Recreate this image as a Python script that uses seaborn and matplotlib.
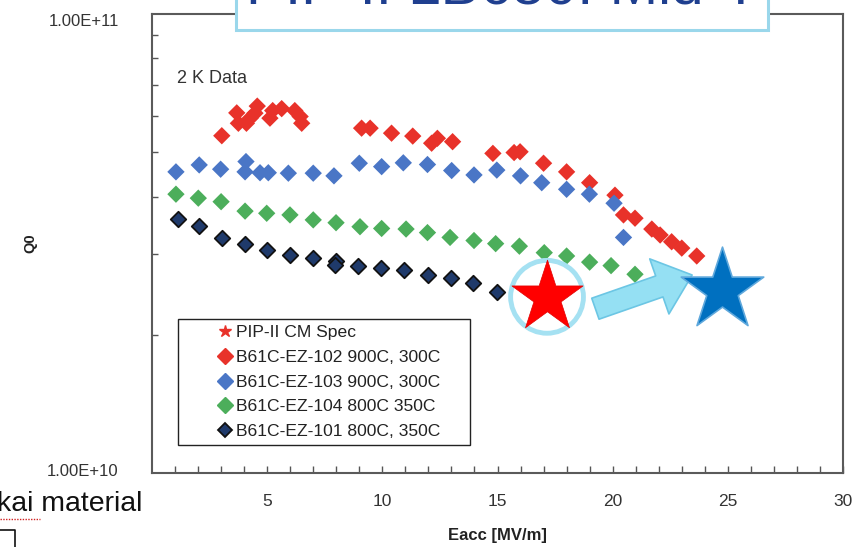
import numpy as np
import pandas as pd
import matplotlib
matplotlib.use("Agg")
import matplotlib.pyplot as plt
import matplotlib.transforms as mtransforms
import seaborn as sns
from matplotlib.lines import Line2D
from matplotlib.patches import FancyArrowPatch, Rectangle, ArrowStyle
from matplotlib.ticker import FixedLocator, NullFormatter

# ---------------- data ----------------
x_102 = [3.03, 3.68, 3.75, 4.10, 4.26, 4.47, 4.57, 5.12, 5.24, 5.63, 6.20, 6.43, 6.50,
         9.10, 9.47, 10.40, 11.32, 12.14, 12.39, 13.05, 14.80, 15.72, 15.98, 17.00,
         18.00, 19.00, 20.10, 20.47, 20.97, 21.70, 22.06, 22.56, 23.00, 23.65]
q_102 = [5.43, 6.09, 5.78, 5.78, 5.93, 6.08, 6.30, 5.93, 6.16, 6.22, 6.16, 5.98, 5.78,
         5.64, 5.64, 5.50, 5.42, 5.23, 5.36, 5.27, 4.97, 4.99, 5.01, 4.73,
         4.53, 4.29, 4.03, 3.65, 3.59, 3.40, 3.30, 3.19, 3.09, 2.97]

x_103 = [1.04, 2.05, 2.98, 4.04, 4.08, 4.69, 5.05, 5.92, 7.00, 7.90, 9.00, 9.97, 10.91,
         11.96, 13.01, 13.98, 14.97, 16.00, 16.92, 18.00, 18.99, 20.06, 20.47]
q_103 = [4.53, 4.69, 4.59, 4.53, 4.77, 4.51, 4.51, 4.50, 4.50, 4.44, 4.73, 4.65, 4.74,
         4.70, 4.56, 4.46, 4.57, 4.44, 4.29, 4.15, 4.05, 3.87, 3.26]

x_104 = [1.04, 2.01, 3.00, 4.04, 4.98, 5.99, 7.00, 7.99, 9.03, 9.97, 11.03, 11.96,
         12.94, 13.98, 14.92, 15.95, 17.03, 18.00, 19.00, 19.93, 20.97]
q_104 = [4.05, 3.97, 3.90, 3.72, 3.68, 3.65, 3.56, 3.51, 3.44, 3.41, 3.40, 3.34,
         3.26, 3.21, 3.16, 3.12, 3.02, 2.97, 2.88, 2.83, 2.71]

x_101 = [1.14, 2.05, 3.03, 4.04, 5.01, 5.99, 6.98, 7.99, 7.95, 8.96, 9.93, 10.94,
         11.99, 12.97, 13.95, 14.97]
q_101 = [3.57, 3.45, 3.25, 3.15, 3.06, 2.98, 2.94, 2.89, 2.84, 2.82, 2.79, 2.77,
         2.70, 2.66, 2.60, 2.48]

spec_x = [17.15]
spec_q = [2.42]
goal_x = [24.75]
goal_q = [2.50]

labels = ["PIP-II CM Spec",
          "B61C-EZ-102 900C, 300C",
          "B61C-EZ-103 900C, 300C",
          "B61C-EZ-104 800C 350C",
          "B61C-EZ-101 800C, 350C"]
x_ticks = [5, 10, 15, 20, 25, 30]
y_tick_labels = ["1.00E+10", "1.00E+11"]

# ---------------- style ----------------
sns.set_style("white")
plt.rcParams["font.family"] = ["Liberation Sans", "DejaVu Sans"]

W, H = 862, 547
fig = plt.figure(figsize=(W / 100, H / 100), dpi=100)
ax = fig.add_axes([152 / W, 1 - 473 / H, (843 - 152) / W, (473 - 14) / H])

c_red = "#E8322A"
c_blue = "#4A76C6"
c_green = "#4CAE5B"
c_navy = "#1F3A6B"

def frame(xs, qs):
    return pd.DataFrame({"Eacc": xs, "Q0": np.array(qs) * 1e10})

ms = 78
sns.scatterplot(data=frame(x_102, q_102), x="Eacc", y="Q0", marker="D", s=ms,
                color=c_red, edgecolor="none", ax=ax, zorder=3)
sns.scatterplot(data=frame(x_103, q_103), x="Eacc", y="Q0", marker="D", s=ms,
                color=c_blue, edgecolor="none", ax=ax, zorder=3)
sns.scatterplot(data=frame(x_104, q_104), x="Eacc", y="Q0", marker="D", s=ms,
                color=c_green, edgecolor="none", ax=ax, zorder=3)
sns.scatterplot(data=frame(x_101, q_101), x="Eacc", y="Q0", marker="D", s=62,
                color=c_navy, edgecolor="#111111", linewidth=1.3, ax=ax, zorder=3)

# annotation: spec star in circle, arrow, goal star
sns.scatterplot(data=frame(spec_x, spec_q), x="Eacc", y="Q0", marker="o", s=2750,
                facecolor="none", edgecolor="#A5E1F2", linewidth=3.5, ax=ax, zorder=5)
sns.scatterplot(data=frame(spec_x, spec_q), x="Eacc", y="Q0", marker="*", s=2900,
                color="#FF0000", edgecolor="#E00000", linewidth=0.5, ax=ax, zorder=6)
sns.scatterplot(data=frame(goal_x, goal_q), x="Eacc", y="Q0", marker="*", s=3900,
                color="#0070C0", edgecolor="#5FA8DC", linewidth=1.2, ax=ax, zorder=6,
                clip_on=False)

arrow = FancyArrowPatch((19.25, 2.28e10), (23.45, 2.70e10),
                        arrowstyle=ArrowStyle.Simple(head_length=25, head_width=42,
                                                     tail_width=16),
                        mutation_scale=1, shrinkA=0, shrinkB=0,
                        facecolor="#95E0F3", edgecolor="#6CC6E4", linewidth=1.2,
                        zorder=5)
ax.add_patch(arrow)

# axes
ax.set_yscale("log")
ax.set_xlim(0, 30)
ax.set_ylim(1e10, 1e11)
ax.set_xticks(x_ticks)
ax.set_xticklabels([str(t) for t in x_ticks])
ax.xaxis.set_minor_locator(FixedLocator(list(range(1, 30))))
ax.set_yticks([1e10, 1e11])
ax.set_yticklabels(y_tick_labels)
ax.yaxis.set_minor_locator(FixedLocator([k * 1e10 for k in range(2, 10)]))
ax.yaxis.set_minor_formatter(NullFormatter())
ax.tick_params(axis="x", which="both", direction="in", length=5, width=1,
               color="#555555", labelsize=12.5, pad=15, labelcolor="#333333",
               top=False, bottom=True)
ax.tick_params(axis="y", which="major", direction="in", length=0, labelsize=12,
               pad=24, labelcolor="#333333")
ax.tick_params(axis="y", which="minor", direction="in", length=4, width=1,
               color="#555555", left=True, right=False)
for sp in ax.spines.values():
    sp.set_visible(True)
    sp.set_color("#5A5A5A")
    sp.set_linewidth(1.5)

ylabs = ax.get_yticklabels()
ylabs[0].set_transform(ylabs[0].get_transform() +
                       mtransforms.ScaledTranslation(0, 3 / 100, fig.dpi_scale_trans))
ylabs[1].set_transform(ylabs[1].get_transform() +
                       mtransforms.ScaledTranslation(0, -6 / 100, fig.dpi_scale_trans))

ax.set_xlabel("Eacc [MV/m]", fontsize=12, fontweight="bold", labelpad=14,
              color="#222222")
ax.set_ylabel("Q0", fontsize=10.5, fontweight="bold", labelpad=7, color="#222222")

ax.text(0.036, 0.86, "2 K Data", transform=ax.transAxes, fontsize=13,
        color="#333333", va="center")

handles = [
    Line2D([], [], marker="*", linestyle="none", color=c_red, markersize=9),
    Line2D([], [], marker="D", linestyle="none", color=c_red, markersize=8),
    Line2D([], [], marker="D", linestyle="none", color=c_blue, markersize=8),
    Line2D([], [], marker="D", linestyle="none", color=c_green, markersize=8),
    Line2D([], [], marker="D", linestyle="none", color=c_navy, markersize=7,
           markeredgecolor="#111111", markeredgewidth=1.3),
]
aw, ah = 843 - 152, 473 - 14
leg = ax.legend(handles, labels, loc="upper left",
                bbox_to_anchor=((178 - 152) / aw, (473 - 319) / ah - 0.3,
                                (470 - 178) / aw, 0.3),
                mode="expand",
                fontsize=12.6, frameon=True, fancybox=False, edgecolor="#222222",
                framealpha=1, borderpad=0.35, labelspacing=0.54, handlelength=4.7,
                handletextpad=-1.75, borderaxespad=0)
leg.get_frame().set_linewidth(1.0)
for t in leg.get_texts():
    t.set_color("#222222")

# slide elements around the chart
box = Rectangle((236 / W, 1 - 30 / H), (768 - 236) / W, 40 / H, transform=fig.transFigure,
                facecolor="white", edgecolor="#9AD7EB", linewidth=2.2, zorder=10)
fig.patches.append(box)
# title: only the lower edge of the glyphs lies inside the picture
fig.text(502 / W, 1 - 4 / H, "PIP-II LB650: Mid-T", fontsize=42,
         color="#1F3F8F", ha="center", va="baseline", zorder=11)

fig.text(-0.004, 1 - 504 / H, "kai material", fontsize=20.5, color="#111111",
         ha="left", va="center")
fig.add_artist(Line2D([0, 40 / W], [1 - 519 / H, 1 - 519 / H], color="#D02020",
                      linewidth=1.0, linestyle=(0, (1, 1)), transform=fig.transFigure))
fig.add_artist(Line2D([0, 15 / W, 15 / W], [1 - 530 / H, 1 - 530 / H, 0],
                      color="#111111", linewidth=1.2, transform=fig.transFigure))

fig.savefig("out.png", dpi=100)
